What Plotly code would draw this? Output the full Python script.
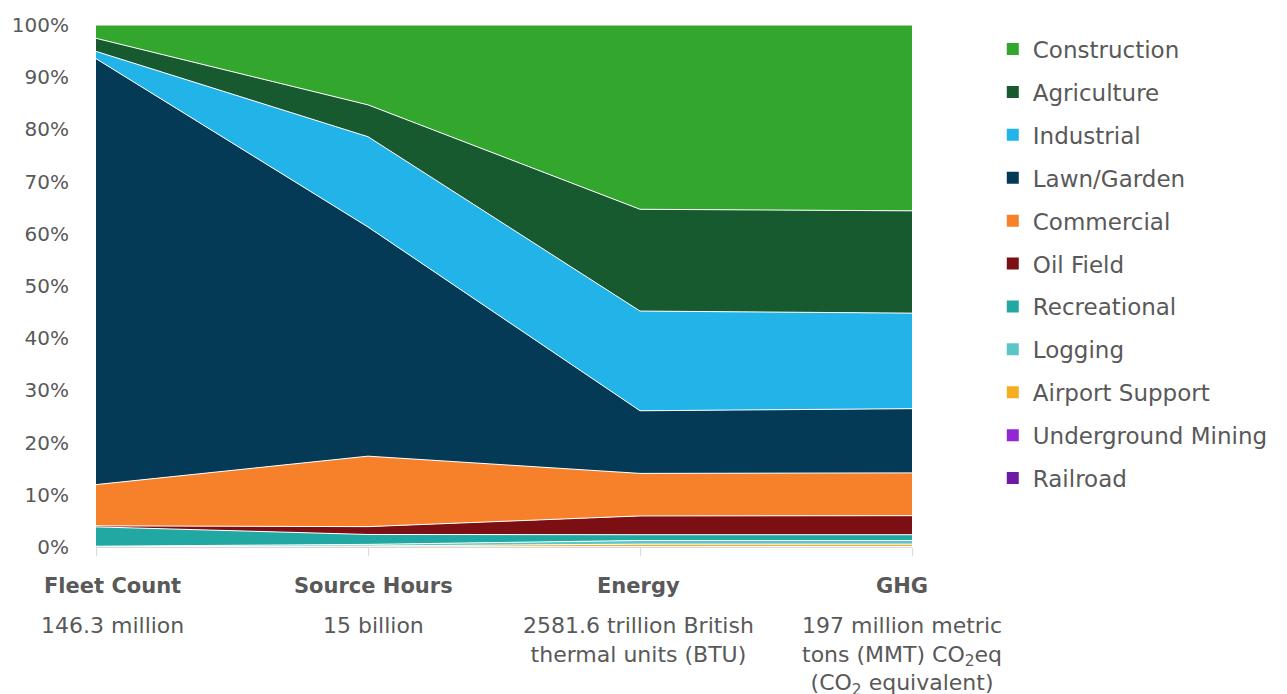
import plotly.graph_objects as go

categories = ["Fleet Count", "Source Hours", "Energy", "GHG"]
descriptions = [
    "146.3 million",
    "15 billion",
    "2581.6 trillion British<br>thermal units (BTU)",
    "197 million metric<br>tons (MMT) CO<sub>2</sub>eq<br>(CO<sub>2</sub> equivalent)",
]

# stacked shares in percent, bottom to top
railroad = [0.0, 0.02, 0.05, 0.05]
underground_mining = [0.0, 0.03, 0.05, 0.05]
airport_support = [0.05, 0.15, 0.45, 0.45]
logging_ = [0.1, 0.3, 0.7, 0.7]
recreational = [3.7, 1.9, 1.1, 1.1]
oil_field = [0.2, 1.5, 3.6, 3.65]
commercial = [7.9, 13.5, 8.15, 8.2]
lawn_garden = [81.6, 43.9, 12.0, 12.3]
industrial = [1.4, 17.3, 19.1, 18.3]
agriculture = [2.5, 6.1, 19.5, 19.6]
construction = [2.55, 15.3, 35.3, 35.6]

series = [
    ("Railroad", railroad, "#6E1BA3"),
    ("Underground Mining", underground_mining, "#9227D6"),
    ("Airport Support", airport_support, "#F5AE20"),
    ("Logging", logging_, "#5BC5C7"),
    ("Recreational", recreational, "#21A8A2"),
    ("Oil Field", oil_field, "#7B0F14"),
    ("Commercial", commercial, "#F7812A"),
    ("Lawn/Garden", lawn_garden, "#043A55"),
    ("Industrial", industrial, "#22B3E8"),
    ("Agriculture", agriculture, "#175A30"),
    ("Construction", construction, "#33A62E"),
]

xpos = list(range(len(categories)))
FONT = "DejaVu Sans"
GRAY = "#595959"

fig = go.Figure()
for name, vals, col in series:
    fig.add_trace(go.Scatter(
        x=xpos, y=vals, name=name, mode="lines", stackgroup="one",
        groupnorm="percent",
        line=dict(color="white", width=1), fillcolor=col,
        showlegend=False, hoverinfo="skip"))

# legend entries with square markers (top to bottom order)
for name, vals, col in reversed(series):
    fig.add_trace(go.Scatter(
        x=[None], y=[None], name=name, mode="markers",
        marker=dict(symbol="square", size=15, color=col),
        legendgroup=name, showlegend=True))

annotations = []
xshifts = [16, 5, -2, -10]
for i, (cat, desc) in enumerate(zip(categories, descriptions)):
    annotations.append(dict(
        x=i, y=0, xref="x", yref="paper", yshift=-39, xshift=xshifts[i],
        text="<b>" + cat + "</b>", showarrow=False, yanchor="middle",
        font=dict(family=FONT, size=21, color=GRAY)))
    annotations.append(dict(
        x=i, y=0, xref="x", yref="paper", yshift=-64, xshift=xshifts[i],
        text=desc, showarrow=False, yanchor="top", align="center",
        font=dict(family=FONT, size=22, color=GRAY)))

fig.update_layout(
    width=1287, height=694,
    margin=dict(l=94, r=375, t=25, b=147),
    paper_bgcolor="white", plot_bgcolor="white",
    font=dict(family=FONT, color=GRAY),
    showlegend=True,
    legend=dict(
        x=1.099, y=0.995, xanchor="left", yanchor="top",
        font=dict(family=FONT, size=23, color=GRAY),
        tracegroupgap=10, itemsizing="constant",
        bgcolor="rgba(0,0,0,0)"),
    annotations=annotations,
    xaxis=dict(
        range=[0, 3], tickvals=xpos, ticktext=["", "", "", ""],
        showgrid=False, zeroline=False, showline=True,
        linecolor="#D9D9D9", linewidth=1, ticks="outside",
        ticklen=8, tickcolor="#D9D9D9", fixedrange=True),
    yaxis=dict(
        range=[0, 100], tickvals=list(range(0, 101, 10)),
        ticktext=[f"{v}%" for v in range(0, 101, 10)],
        showgrid=False, zeroline=False, showline=False,
        tickfont=dict(family=FONT, size=20, color=GRAY),
        ticks="", ticklabelstandoff=26, fixedrange=True),
)

fig.write_html("out.html")
